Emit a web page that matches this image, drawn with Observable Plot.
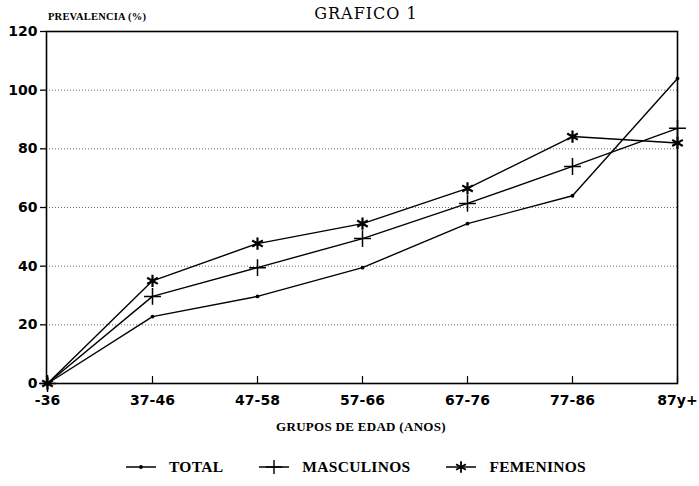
<!DOCTYPE html>
<html>
<head>
<meta charset="utf-8">
<script src="https://cdn.jsdelivr.net/npm/d3@7"></script>
<script src="https://cdn.jsdelivr.net/npm/@observablehq/plot@0.6"></script>
<style>
  html, body { margin: 0; padding: 0; background: #fff; }
  #wrap { position: relative; width: 699px; height: 486px; overflow: hidden; }
  #wrap svg.plot { position: absolute; left: 0; top: 0; }
  .t { position: absolute; color: #000; white-space: nowrap; line-height: 1; }
  #title { top: 4px; left: 366px; transform: translateX(-50%); font: 16px "DejaVu Serif", serif; letter-spacing: 1px; }
  #ylab { top: 11px; left: 48px; font: bold 10.5px "Liberation Serif", serif; letter-spacing: 0.2px; }
  #xlab { top: 419px; left: 361px; transform: translateX(-50%); font: bold 13px "Liberation Serif", serif; letter-spacing: 0.3px; }
  #legend { top: 458px; left: 126px; display: flex; align-items: center; font: bold 15.5px "Liberation Serif", serif; letter-spacing: 0.3px; }
  #legend .item { display: flex; align-items: center; }
  #legend svg { display: block; margin-right: 13px; }
</style>
</head>
<body>
<div id="wrap">
  <div id="title" class="t">GRAFICO 1</div>
  <div id="ylab" class="t">PREVALENCIA (%)</div>
  <div id="xlab" class="t">GRUPOS DE EDAD (ANOS)</div>
  <div id="legend" class="t"></div>
</div>
<script>
const categories = ["-36", "37-46", "47-58", "57-66", "67-76", "77-86", "87y+"];
const total      = [0, 22.8, 29.7, 39.5, 54.5, 64.0, 104.0];
const masculinos = [0, 29.7, 39.5, 49.4, 61.4, 74.0, 87.0];
const femeninos  = [0, 35.0, 47.7, 54.5, 66.5, 84.2, 82.0];
const seriesNames = ["TOTAL", "MASCULINOS", "FEMENINOS"];
const yTicks = [0, 20, 40, 60, 80, 100, 120];
const gridTicks = [20, 40, 60, 80, 100];

const seriesValues = [total, masculinos, femeninos];
const symbols = {TOTAL: "circle", MASCULINOS: "plus", FEMENINOS: "asterisk"};
const rows = [];
seriesNames.forEach((s, si) => categories.forEach((c, i) => rows.push({serie: s, grupo: c, valor: seriesValues[si][i]})));

const tickFont = {fontSize: 14, fontWeight: "bold", fontFamily: "'DejaVu Sans', sans-serif"};

const chart = Plot.plot({
  width: 699,
  height: 486,
  marginLeft: 46,
  marginRight: 22,
  marginTop: 31,
  marginBottom: 103,
  style: {background: "transparent", color: "#000"},
  x: {type: "point", domain: categories, padding: 0, axis: null},
  y: {domain: [0, 120], axis: null},
  marks: [
    Plot.gridY(gridTicks, {stroke: "#444", strokeOpacity: 0.8, strokeDasharray: "1,2", strokeWidth: 1}),
    Plot.axisY(yTicks, {anchor: "left", tickSize: 6, tickPadding: 3, strokeWidth: 1.3, ...tickFont, label: null, style: {letterSpacing: "0.8px"}}),
    Plot.axisX(categories, {anchor: "bottom", tickSize: 0, tickPadding: 12, ...tickFont, label: null, style: {letterSpacing: "0.6px"}}),
    Plot.tickX(categories, {x: d => d, insetTop: 345, strokeWidth: 1.2}),
    Plot.frame({stroke: "#000", strokeWidth: 1.6}),
    Plot.line(rows, {x: "grupo", y: "valor", z: "serie", stroke: "#000", strokeWidth: 1.4}),
    Plot.dot(rows.filter(d => d.serie === "TOTAL"), {x: "grupo", y: "valor", symbol: "circle", r: 1.9, fill: "#000", stroke: "none"}),
    Plot.dot(rows.filter(d => d.serie === "MASCULINOS"), {x: "grupo", y: "valor", symbol: "plus", r: 5.5, stroke: "#000", strokeWidth: 1.5}),
    Plot.dot(rows.filter(d => d.serie === "FEMENINOS"), {x: "grupo", y: "valor", symbol: "asterisk", r: 5.8, stroke: "#000", strokeWidth: 2.2})
  ]
});
chart.classList.add("plot");
const wrap = document.getElementById("wrap");
wrap.insertBefore(chart, wrap.firstChild);

// legend
const legend = d3.select("#legend");
const gaps = [36, 36, 0];
seriesNames.forEach((s, i) => {
  const item = legend.append("div").attr("class", "item").style("margin-right", gaps[i] + "px");
  const sv = item.append("svg").attr("width", 30).attr("height", 14);
  sv.append("line").attr("x1", 0).attr("x2", 30).attr("y1", 7).attr("y2", 7).attr("stroke", "#000").attr("stroke-width", 1.5);
  const sym = {circle: d3.symbolCircle, plus: d3.symbolPlus, asterisk: d3.symbolAsterisk}[symbols[s]];
  const size = s === "TOTAL" ? 12 : 90;
  const p = sv.append("path").attr("transform", "translate(15,7)").attr("d", d3.symbol(sym, size)());
  if (s === "TOTAL") p.attr("fill", "#000");
  else p.attr("fill", "none").attr("stroke", "#000").attr("stroke-width", s === "FEMENINOS" ? 1.8 : 1.4);
  item.append("span").text(s);
});
</script>
</body>
</html>
